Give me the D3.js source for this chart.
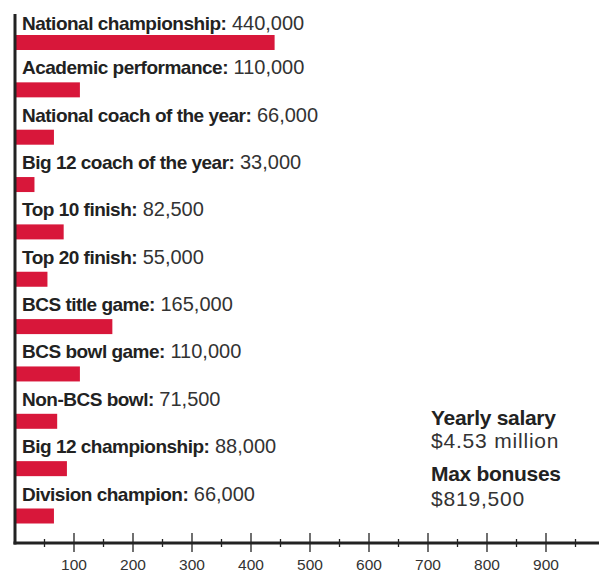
<!DOCTYPE html>
<html><head><meta charset="utf-8">
<script src="https://cdn.jsdelivr.net/npm/d3@7"></script>
<style>body{margin:0;background:#fff}svg{display:block}</style>
</head><body>
<svg id="c" width="599" height="573"></svg>
<script>
const categories = ["National championship","Academic performance","National coach of the year","Big 12 coach of the year","Top 10 finish","Top 20 finish","BCS title game","BCS bowl game","Non-BCS bowl","Big 12 championship","Division champion"];
const values = [440000,110000,66000,33000,82500,55000,165000,110000,71500,88000,66000];
const tickValues = [50,100,150,200,250,300,350,400,450,500,550,600,650,700,750,800,850,900,950];
const tickLabels = [100,200,300,400,500,600,700,800,900];
const notes = [["Yearly salary","$4.53 million"],["Max bonuses","$819,500"]];

const svg = d3.select("#c");
const x = d3.scaleLinear().domain([0,1000]).range([15,605]);
const y = d3.scalePoint().domain(categories).range([35,508.5]);
const fmt = d3.format(",");
const red = "#d8173a", ink = "#222";
const font = "Liberation Sans, Arial, sans-serif";

svg.selectAll("rect.bar").data(categories).join("rect")
  .attr("class","bar")
  .attr("x", x(0)).attr("y", d=>y(d))
  .attr("width", (d,i)=>x(values[i]/1000)-x(0)).attr("height",15)
  .attr("fill", red);

const t = svg.selectAll("text.lab").data(categories).join("text")
  .attr("class","lab").attr("x",22).attr("y",(d,i)=>y(d)-(i===0?5:8))
  .attr("fill",ink);
t.append("tspan").attr("font-family",font)
  .attr("font-weight","bold").attr("font-size",19).attr("letter-spacing","-0.5")
  .text(d=>d+":");
t.append("tspan").attr("font-family",font)
  .attr("font-size",20).attr("fill","#333").text((d,i)=>" "+fmt(values[i]));

// axes
svg.append("line").attr("x1",15).attr("x2",15).attr("y1",14).attr("y2",544.5)
  .attr("stroke",ink).attr("stroke-width",3);
svg.append("line").attr("x1",13.5).attr("x2",599).attr("y1",543).attr("y2",543)
  .attr("stroke",ink).attr("stroke-width",3);
svg.selectAll("line.tick").data(tickValues).join("line")
  .attr("class","tick")
  .attr("x1",d=>x(d)).attr("x2",d=>x(d))
  .attr("y1",d=>d%100===0?533:539).attr("y2",d=>d%100===0?552:547)
  .attr("stroke",ink).attr("stroke-width",1.3);
svg.selectAll("text.tl").data(tickLabels).join("text")
  .attr("class","tl").attr("x",d=>x(d)).attr("y",570)
  .attr("text-anchor","middle").attr("font-family",font)
  .attr("font-size",15.5).attr("fill","#333").text(d=>d);

// notes
const ny = [[425,448],[481,506]];
notes.forEach((n,i)=>{
  svg.append("text").attr("x",431).attr("y",ny[i][0])
    .attr("font-family",font).attr("font-weight","bold")
    .attr("font-size",21).attr("letter-spacing","-0.3").attr("fill",ink).text(n[0]);
  svg.append("text").attr("x",431).attr("y",ny[i][1])
    .attr("font-family",font).attr("letter-spacing","0.8")
    .attr("font-size",21).attr("fill","#333").text(n[1]);
});
</script>
</body></html>
